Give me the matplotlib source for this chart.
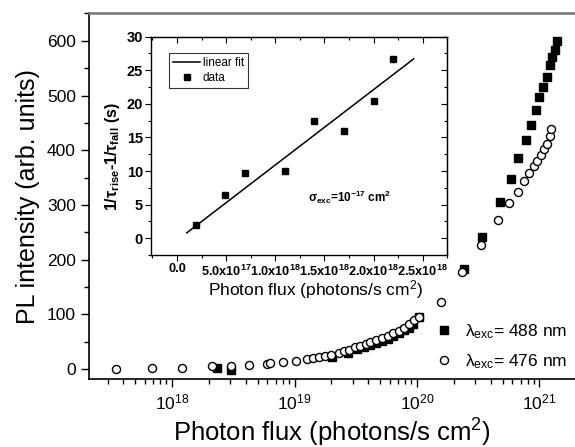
import matplotlib
matplotlib.use("Agg")
import matplotlib.pyplot as plt
from matplotlib.ticker import MultipleLocator, LogLocator, FixedLocator, FixedFormatter, NullFormatter
import numpy as np

plt.rcParams['font.family'] = ['Liberation Sans', 'DejaVu Sans']
plt.rcParams['mathtext.fontset'] = 'custom'
plt.rcParams['mathtext.rm'] = 'Liberation Sans'
plt.rcParams['mathtext.it'] = 'Liberation Sans:italic'
plt.rcParams['mathtext.bf'] = 'Liberation Sans:bold'

# ---- main data (log10 of photon flux, PL intensity) ----
flux488_log = [18.37, 18.48, 19.31, 19.44, 19.51, 19.57, 19.62, 19.665, 19.714, 19.762,
               19.806, 19.851, 19.896, 19.932, 19.97, 20.015, 20.387, 20.533, 20.68,
               20.765, 20.828, 20.888, 20.93, 20.97, 21.0, 21.031, 21.058, 21.084,
               21.105, 21.127, 21.145]
pl488 = [3, -1, 22, 29, 36, 40, 44, 47.5, 52, 56, 61, 66, 71, 76, 82, 95, 183, 241, 305,
         347, 385, 419, 447, 474, 497, 516, 534, 555, 570, 584, 599]

flux476_log = [17.545, 17.837, 18.08, 18.33, 18.48, 18.63, 18.776, 18.80, 18.903, 19.013,
               19.105, 19.152, 19.203, 19.25, 19.30, 19.365, 19.405, 19.445, 19.495,
               19.538, 19.582, 19.62, 19.668, 19.715, 19.76, 19.805, 19.85, 19.895,
               19.935, 19.975, 20.02, 20.192, 20.368, 20.522, 20.665, 20.749, 20.822,
               20.875, 20.915, 20.955, 20.98, 21.01, 21.035, 21.06, 21.084, 21.098]
pl476 = [1, 2, 1.5, 5.5, 5, 7.5, 9.5, 11, 13, 15.5, 18, 21, 23, 25, 26.5, 30, 32.5, 35,
         40.5, 43, 46, 49, 53.5, 57, 61, 66, 70, 76, 83, 89, 96, 122, 177, 226, 272, 303,
         323, 343, 358, 371, 381, 392, 403, 412, 426, 439]

main_xticks_log = [18, 19, 20, 21]

# ---- inset data ----
inset_flux = [0.194e18, 0.493e18, 0.694e18, 1.097e18, 1.392e18, 1.694e18, 2.0e18, 2.198e18]
inset_rate = [2.0, 6.5, 9.75, 10.0, 17.5, 16.0, 20.5, 26.7]
fit_flux = [0.10e18, 2.407e18]
fit_rate = [0.8, 26.7]
inset_xticks = [0.0, 0.5e18, 1.0e18, 1.5e18, 2.0e18, 2.5e18]
inset_xticklabels = ['0.0', r'5.0x10$^{\mathbf{17}}$', r'1.0x10$^{\mathbf{18}}$',
                     r'1.5x10$^{\mathbf{18}}$', r'2.0x10$^{\mathbf{18}}$', r'2.5x10$^{\mathbf{18}}$']

fig = plt.figure(figsize=(5.75, 4.47), dpi=100)
ax = fig.add_axes([0.1548, 0.152, 0.8452, 0.818])

x488 = np.power(10.0, flux488_log)
x476 = np.power(10.0, flux476_log)
l1, = ax.plot(x488, pl488, 's', color='black', ms=5.4, mec='black', linestyle='none', zorder=3)
l2, = ax.plot(x476, pl476, 'o', color='white', ms=5.8, mec='black', mew=1.0, linestyle='none', zorder=4)

ax.set_xscale('log')
ax.set_xlim(2.1e17, 1.95e21)
ax.set_ylim(-18, 650)
ax.xaxis.set_major_locator(FixedLocator([10.0 ** v for v in main_xticks_log]))
ax.xaxis.set_minor_locator(LogLocator(base=10, subs=np.arange(2, 10), numticks=20))
ax.xaxis.set_minor_formatter(NullFormatter())
ax.yaxis.set_major_locator(MultipleLocator(100))
ax.yaxis.set_minor_locator(MultipleLocator(50))
ax.tick_params(which='both', direction='out', labelsize=12.5, width=1.0)
ax.tick_params(which='major', length=6)
ax.tick_params(which='minor', length=3.5)
ax.spines['right'].set_visible(False)
ax.spines['top'].set_color('#777777')
ax.spines['top'].set_linewidth(1.8)
ax.spines['left'].set_linewidth(1.2)
ax.spines['bottom'].set_linewidth(1.2)
ax.set_xlabel(r'Photon flux (photons/s cm$^{2}$)', fontsize=18.5, labelpad=3)
ax.set_ylabel('PL intensity (arb. units)', fontsize=18, labelpad=5)

leg = ax.legend([l1, l2], ['λ$_{\\rm exc}$= 488 nm', 'λ$_{\\rm exc}$= 476 nm'],
                loc='lower left', bbox_to_anchor=(0.712, 0.022), frameon=False, fontsize=12.5,
                handletextpad=0.75, labelspacing=0.65, handlelength=1.0,
                borderpad=0.0, borderaxespad=0.0)

# ---- inset ----
ins = fig.add_axes([0.2633, 0.4295, 0.5148, 0.4884])
ins.plot(fit_flux, fit_rate, '-', color='black', lw=1.1, label='linear fit')
ins.plot(inset_flux, inset_rate, 's', color='black', ms=4.2, linestyle='none', label='data')
ins.set_xlim(-0.26e18, 2.75e18)
ins.set_ylim(-2.5, 30)
ins.xaxis.set_major_locator(FixedLocator(inset_xticks))
ins.xaxis.set_major_formatter(FixedFormatter(inset_xticklabels))
ins.xaxis.set_minor_locator(MultipleLocator(0.25e18))
ins.yaxis.set_major_locator(MultipleLocator(5))
ins.yaxis.set_minor_locator(MultipleLocator(2.5))
ins.tick_params(which='both', direction='out', width=0.8, pad=2)
ins.tick_params(axis='x', labelsize=9.2)
ins.tick_params(axis='y', labelsize=10.5)
ins.tick_params(which='major', length=4)
ins.tick_params(which='minor', length=2.5)
for lab in ins.get_xticklabels() + ins.get_yticklabels():
    lab.set_fontweight('bold')
for s in ins.spines.values():
    s.set_linewidth(1.0)

top = ins.secondary_xaxis('top')
top.xaxis.set_major_locator(FixedLocator(inset_xticks))
top.xaxis.set_minor_locator(MultipleLocator(0.25e18))
top.tick_params(which='both', direction='in', labeltop=False, width=0.8)
top.tick_params(which='major', length=4)
top.tick_params(which='minor', length=2.5)
right = ins.secondary_yaxis('right')
right.yaxis.set_major_locator(MultipleLocator(5))
right.yaxis.set_minor_locator(MultipleLocator(2.5))
right.tick_params(which='both', direction='in', labelright=False, width=0.8)
right.tick_params(which='major', length=4)
right.tick_params(which='minor', length=2.5)

ins.set_xlabel(r'Photon flux (photons/s cm$^{2}$)', fontsize=12.5, labelpad=1)
ins.xaxis.set_label_coords(0.553, -0.105)
ins.set_ylabel(r'1/τ$_{\mathbf{rise}}$-1/τ$_{\mathbf{fall}}$ (s)', fontsize=11.5,
               fontweight='bold', labelpad=2)
ins.yaxis.set_label_coords(-0.1, 0.45)
ins.text(1.33e18, 6.1, r'σ$_{\mathbf{exc}}$=10$^{\mathbf{-17}}$ cm$^{\mathbf{2}}$',
         fontsize=8.5, fontweight='bold', va='center', ha='left')
ileg = ins.legend(loc='upper left', bbox_to_anchor=(0.059, 0.927), fontsize=8.5,
                  frameon=True, fancybox=False, handlelength=2.3, borderpad=0.35,
                  labelspacing=0.3, handletextpad=0.2, borderaxespad=0.0)
ileg.get_frame().set_edgecolor('black')
ileg.get_frame().set_linewidth(0.8)

fig.savefig('out.png', dpi=100)
